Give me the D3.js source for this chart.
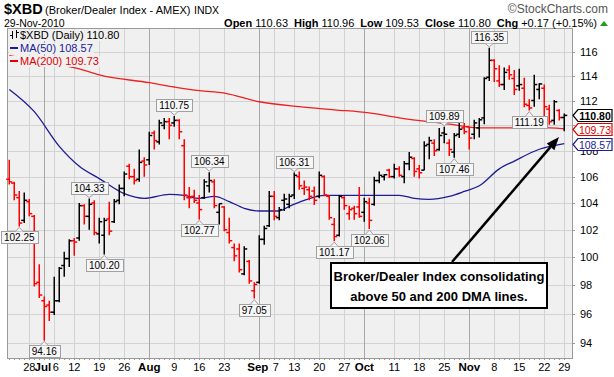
<!DOCTYPE html>
<html><head><meta charset="utf-8">
<script src="https://cdn.jsdelivr.net/npm/d3@7"></script>
<style>
body{margin:0;background:#fff}
svg{display:block}
text{font-family:"Liberation Sans",Arial,sans-serif}
</style>
</head><body>
<svg id="c" width="614" height="377"></svg>
<script>
// ---------------- DATA ----------------
const dates = [
"2010-06-22","2010-06-23","2010-06-24","2010-06-25","2010-06-28","2010-06-29","2010-06-30",
"2010-07-01","2010-07-02","2010-07-06","2010-07-07","2010-07-08","2010-07-09","2010-07-12","2010-07-13","2010-07-14","2010-07-15","2010-07-16","2010-07-19","2010-07-20","2010-07-21","2010-07-22","2010-07-23","2010-07-26","2010-07-27","2010-07-28","2010-07-29","2010-07-30",
"2010-08-02","2010-08-03","2010-08-04","2010-08-05","2010-08-06","2010-08-09","2010-08-10","2010-08-11","2010-08-12","2010-08-13","2010-08-16","2010-08-17","2010-08-18","2010-08-19","2010-08-20","2010-08-23","2010-08-24","2010-08-25","2010-08-26","2010-08-27","2010-08-30","2010-08-31",
"2010-09-01","2010-09-02","2010-09-03","2010-09-07","2010-09-08","2010-09-09","2010-09-10","2010-09-13","2010-09-14","2010-09-15","2010-09-16","2010-09-17","2010-09-20","2010-09-21","2010-09-22","2010-09-23","2010-09-24","2010-09-27","2010-09-28","2010-09-29","2010-09-30",
"2010-10-01","2010-10-04","2010-10-05","2010-10-06","2010-10-07","2010-10-08","2010-10-11","2010-10-12","2010-10-13","2010-10-14","2010-10-15","2010-10-18","2010-10-19","2010-10-20","2010-10-21","2010-10-22","2010-10-25","2010-10-26","2010-10-27","2010-10-28","2010-10-29",
"2010-11-01","2010-11-02","2010-11-03","2010-11-04","2010-11-05","2010-11-08","2010-11-09","2010-11-10","2010-11-11","2010-11-12","2010-11-15","2010-11-16","2010-11-17","2010-11-18","2010-11-19","2010-11-22","2010-11-23","2010-11-24","2010-11-26","2010-11-29"];

const openV = [105.8,105.5,104.4,102.7,104.1,103.0,98.2,
96.9,96.6,96.1,96.9,99.4,99.9,101.2,101.4,103.8,103.0,104.0,101.7,101.6,102.8,102.6,104.2,105.1,106.8,106.0,105.8,107.2,
107.3,109.4,108.7,110.0,110.3,110.2,110.4,108.4,104.4,104.5,104.0,104.4,105.3,105.6,103.3,103.7,101.8,100.7,100.6,98.8,99.7,97.6,
98.2,101.3,102.3,104.5,102.9,104.2,103.9,104.6,106.0,105.1,105.0,104.9,104.5,106.0,104.5,102.4,101.6,104.4,103.2,103.6,103.7,
103.3,104.0,103.9,105.7,106.0,106.5,106.0,106.6,106.0,107.0,107.4,106.6,106.5,108.5,108.6,108.1,109.4,108.6,107.9,109.3,109.8,
109.9,109.3,109.8,110.6,113.9,115.3,113.6,113.3,114.5,113.8,113.2,113.0,111.6,112.0,112.9,113.0,111.3,110.4,111.2,110.63];
const highV = [107.3,105.6,104.9,104.8,104.3,103.1,99.5,
97.2,96.9,98.6,99.3,100.4,101.3,101.4,104.0,103.9,104.33,104.2,102.9,102.9,104.1,104.3,105.4,106.4,107.0,106.6,108.1,107.5,
109.5,109.6,110.45,110.6,110.6,110.75,110.5,108.9,105.2,105.0,104.6,105.8,106.34,105.8,103.95,103.75,102.9,101.0,101.0,100.8,99.8,98.2,
101.6,102.3,104.9,104.9,103.7,104.7,104.7,106.31,106.4,105.7,105.25,105.25,106.4,106.1,104.6,102.87,104.6,104.5,103.8,103.8,105.2,
104.4,104.4,106.0,106.4,106.2,106.6,107.0,106.8,107.2,107.9,107.5,106.9,108.75,109.1,108.9,109.8,109.89,108.9,109.4,110.3,110.2,
109.9,110.45,110.6,113.9,116.35,115.4,114.9,114.7,114.9,114.5,114.6,113.85,112.1,114.1,113.4,113.3,111.65,112.05,111.3,110.96];
const lowV = [105.4,104.2,102.25,102.5,103.0,97.9,97.1,
94.16,95.5,95.9,96.8,98.6,99.3,100.1,101.2,102.4,102.0,101.6,101.0,100.2,101.6,102.5,103.9,104.5,105.8,105.4,105.6,106.0,
106.9,108.1,108.5,109.7,108.9,109.9,108.9,104.2,103.6,104.0,102.77,104.3,104.8,103.6,102.4,101.9,101.0,99.7,98.9,98.7,98.1,97.05,
98.1,100.9,102.2,102.7,102.7,103.4,103.6,104.3,105.0,104.6,104.2,103.85,104.35,104.5,102.75,101.17,101.5,103.5,102.75,102.75,102.9,
102.6,102.06,103.8,105.5,105.7,105.9,105.85,106.0,105.5,106.5,106.0,105.85,106.5,107.35,107.6,108.0,108.6,107.6,107.46,109.0,109.3,
108.1,108.9,109.05,110.1,113.6,113.5,113.1,112.85,113.7,112.45,112.8,111.45,111.19,111.5,112.1,110.6,110.05,110.05,110.4,109.53];
const closeV = [105.6,104.6,102.5,104.2,103.2,98.1,97.3,
96.5,96.1,96.9,99.2,99.9,101.2,101.1,103.8,103.0,103.9,101.8,102.6,102.7,101.9,104.1,105.1,106.2,106.0,105.7,107.1,106.9,
109.2,108.8,110.2,110.3,110.0,110.4,109.5,104.6,104.4,104.2,103.5,105.6,105.7,103.8,103.95,102.0,101.2,100.1,99.1,100.6,98.3,98.05,
101.3,102.1,104.5,103.0,103.5,104.3,104.5,106.1,105.3,105.2,104.5,104.2,106.1,104.6,102.9,101.5,104.5,103.8,103.5,103.2,103.0,
104.1,102.7,105.7,106.1,106.15,106.0,106.6,106.1,107.0,107.5,106.4,106.3,108.4,108.8,108.0,109.2,109.3,108.1,109.2,109.7,109.5,
109.0,110.2,110.45,113.8,115.3,114.6,113.3,114.3,114.1,112.9,113.3,111.7,111.4,113.3,113.35,111.5,110.3,111.9,110.63,110.80];
const prevClose = 106.0;

// moving averages read at selected sessions (index into dates)
const ma50Idx = [0,5,10,14,18,23,27,32,35,38,41,44,47,50,54,56,59,63,71,78,81,84,88,91,94,98,101,106,111];
const ma50Val = [112.9,111.1,108.35,106.8,105.85,104.7,104.35,104.65,104.57,104.35,104.5,104.1,103.6,103.4,103.4,103.75,104.2,104.57,104.57,104.57,104.35,104.27,104.5,104.87,105.3,106.6,107.2,108.12,108.57];
const ma200Idx = [0,8,14,18,28,33,38,43,50,58,65,72,78,88,94,98,106,111];
const ma200Val = [115.7,115.1,114.6,114.1,113.45,113.1,112.8,112.6,111.9,111.5,111.25,111.0,110.6,110.1,109.8,109.8,109.85,109.73];

// x-axis tick labels
const tickDates = ["2010-06-28","2010-07-01","2010-07-06","2010-07-12","2010-07-19","2010-07-26","2010-08-02","2010-08-09","2010-08-16","2010-08-23","2010-09-01","2010-09-07","2010-09-13","2010-09-20","2010-09-27","2010-10-01","2010-10-11","2010-10-18","2010-10-25","2010-11-01","2010-11-08","2010-11-15","2010-11-22","2010-11-29"];
const tickText  = ["28","Jul","6","12","19","26","Aug","9","16","23","Sep","7","13","20","27","Oct","11","18","25","Nov","8","15","22","29"];
const yTicks = [94,96,98,100,102,104,106,108,110,112,114,116];
const yLabels = [94,96,98,100,102,104,106,108,112,114,116]; // 110 sits under the value tags

// labelled highs / lows
const hiDates = ["2010-07-15","2010-08-09","2010-08-18","2010-09-13","2010-10-25","2010-11-05"];
const hiVals  = [104.33,110.75,106.34,106.31,109.89,116.35];
const loDates = ["2010-06-24","2010-07-01","2010-07-20","2010-08-16","2010-08-31","2010-09-23","2010-10-04","2010-10-27","2010-11-17"];
const loVals  = [102.25,94.16,100.20,102.77,97.05,101.17,102.06,107.46,111.19];

const lastMA50 = 108.57, lastMA200 = 109.73;
const noteLines = ["Broker/Dealer Index consolidating","above 50 and 200 DMA lines."];

// ---------------- LAYOUT ----------------
const P = {l:7, r:572, t:28, b:358};
const svg = d3.select("#c");
const x = d3.scalePoint().domain(dates).range([9.3, 564.3]);
const y = d3.scaleLog().domain([92.97, 118.03]).range([P.b, P.t]);
const RED = "#ff0000", BLUE = "#1c1c96", MARED = "#ee2020";
const isMonth = s => /^[A-Z]/.test(s);

svg.append("rect").attr("width",614).attr("height",377).attr("fill","#fff");
svg.append("rect").attr("x",P.l).attr("y",P.t).attr("width",P.r-P.l).attr("height",P.b-P.t).attr("fill","#f0f0f0");

// grid
const grid = svg.append("g").attr("shape-rendering","crispEdges");
grid.selectAll("line.h").data(yTicks).join("line")
  .attr("x1",P.l).attr("x2",P.r).attr("y1",d=>Math.round(y(d))+0.5).attr("y2",d=>Math.round(y(d))+0.5)
  .attr("stroke","#d2d2d2");
grid.selectAll("line.v").data(tickDates).join("line")
  .attr("x1",d=>Math.round(x(d))+0.5).attr("x2",d=>Math.round(x(d))+0.5).attr("y1",P.t).attr("y2",P.b)
  .attr("stroke",(d,i)=>isMonth(tickText[i])?"#a8a8a8":"#d2d2d2");

// frame
svg.append("rect").attr("x",P.l+0.5).attr("y",P.t+0.5).attr("width",P.r-P.l).attr("height",P.b-P.t)
  .attr("fill","none").attr("stroke","#9a9a9a").attr("shape-rendering","crispEdges");
svg.append("g").selectAll("line").data(dates).join("line")
  .attr("x1",d=>Math.round(x(d))+0.5).attr("x2",d=>Math.round(x(d))+0.5)
  .attr("y1",P.b).attr("y2",P.b+2).attr("stroke","#9a9a9a").attr("shape-rendering","crispEdges");

// x labels
svg.append("g").selectAll("text").data(tickDates).join("text")
  .attr("x",(d,i)=>x(d) + (tickText[i]==="6"||tickText[i]==="7"?1.5:0) - (tickText[i]==="Jul"||tickText[i]==="Sep"?1.5:0))
  .attr("y",371).attr("text-anchor","middle")
  .attr("font-size",(d,i)=>isMonth(tickText[i])?11.5:11)
  .attr("font-weight",(d,i)=>isMonth(tickText[i])?"bold":"normal")
  .attr("fill","#000").text((d,i)=>tickText[i]);

// y labels + ticks
svg.append("g").selectAll("line").data(yTicks).join("line")
  .attr("x1",P.r).attr("x2",P.r+3).attr("y1",d=>Math.round(y(d))+0.5).attr("y2",d=>Math.round(y(d))+0.5)
  .attr("stroke","#9a9a9a").attr("shape-rendering","crispEdges");
svg.append("g").selectAll("text").data(yLabels).join("text")
  .attr("x",580).attr("y",d=>y(d)+4).attr("font-size",11).attr("fill","#000").text(d=>d);

// moving averages
const line = d3.line().x(d=>x(dates[d[0]])).y(d=>y(d[1])).curve(d3.curveMonotoneX);
svg.append("path").attr("d",line(d3.zip(ma200Idx,ma200Val))).attr("fill","none").attr("stroke",MARED).attr("stroke-width",1.3);
svg.append("path").attr("d",line(d3.zip(ma50Idx,ma50Val))).attr("fill","none").attr("stroke",BLUE).attr("stroke-width",1.3);

// OHLC bars
const bars = svg.append("g").attr("stroke-width",1.5);
dates.forEach((d,i)=>{
  const pc = i===0?prevClose:closeV[i-1];
  const col = closeV[i] < pc ? RED : "#000";
  const cx = Math.round(x(d))+0.25;
  const g = bars.append("g").attr("stroke",col);
  g.append("line").attr("x1",cx).attr("x2",cx).attr("y1",y(highV[i])).attr("y2",y(lowV[i]));
  g.append("line").attr("x1",cx-3).attr("x2",cx).attr("y1",y(openV[i])).attr("y2",y(openV[i]));
  g.append("line").attr("x1",cx).attr("x2",cx+3).attr("y1",y(closeV[i])).attr("y2",y(closeV[i]));
});

// value call-outs
function callout(date,v,isHigh){
  const cx = Math.round(x(date))+0.25, vy = y(v);
  const g = svg.append("g");
  const t = g.append("text").attr("font-size",10).attr("text-anchor","middle").text(v.toFixed(2));
  const w = t.node().getComputedTextLength()+6, h = 12;
  const by = isHigh ? vy-5-h : vy+5;
  g.insert("rect","text").attr("x",Math.round(cx-w/2)+0.5).attr("y",Math.round(by)+0.5).attr("width",Math.round(w)).attr("height",h)
    .attr("fill","#f6f6f6").attr("stroke","#a0a0a0");
  const ty = isHigh ? Math.round(by)+h+0.5 : Math.round(by)+0.5;
  g.append("path").attr("d",`M${cx-4},${ty} L${cx},${isHigh?vy-1:vy+1} L${cx+4},${ty}`)
    .attr("fill","#f6f6f6").attr("stroke","#a0a0a0");
  t.attr("x",cx).attr("y",Math.round(by)+h-2).raise();
}
hiDates.forEach((d,i)=>callout(d,hiVals[i],true));
loDates.forEach((d,i)=>callout(d,loVals[i],false));

// legend
const leg = svg.append("g").attr("font-size",11);
const legRows = [
  {txt:"$XBD (Daily) "+closeV[closeV.length-1].toFixed(2), col:"#000", y:39, icon:"bar"},
  {txt:"MA(50) "+lastMA50.toFixed(2), col:"#1c1c96", y:52, icon:"line"},
  {txt:"MA(200) "+lastMA200.toFixed(2), col:"#e00000", y:65, icon:"line"}
];
legRows.forEach(r=>{
  const t = leg.append("text").attr("x",20).attr("y",r.y).attr("fill",r.col).text(r.txt);
  const w = t.node().getComputedTextLength();
  leg.insert("rect","text").attr("x",9).attr("y",r.y-9).attr("width",w+12).attr("height",11).attr("fill","#f0f0f0");
  if(r.icon==="line"){
    leg.append("line").attr("x1",10).attr("x2",18).attr("y1",r.y-4).attr("y2",r.y-4).attr("stroke",r.col).attr("stroke-width",2);
  } else {
    const ic = leg.append("g").attr("stroke","#000").attr("stroke-width",1);
    ic.append("line").attr("x1",12.5).attr("x2",12.5).attr("y1",r.y-8).attr("y2",r.y);
    ic.append("line").attr("x1",10).attr("x2",12.5).attr("y1",r.y-3.5).attr("y2",r.y-3.5);
    ic.append("line").attr("x1",16.5).attr("x2",16.5).attr("y1",r.y-9).attr("y2",r.y-1);
    ic.append("line").attr("x1",16.5).attr("x2",19).attr("y1",r.y-6.5).attr("y2",r.y-6.5);
  }
});

// right-side value tags
function tag(v,col,bold){
  const yc = Math.round(y(v))+0.5;
  svg.append("path").attr("d",`M573,${yc} L578,${yc-6} L612,${yc-6} L612,${yc+6} L578,${yc+6} Z`)
    .attr("fill","#fff").attr("stroke",col).attr("stroke-width",1.2);
  svg.append("text").attr("x",595).attr("y",yc+4).attr("text-anchor","middle").attr("font-size",10.5)
    .attr("font-weight",bold?"bold":"normal").attr("fill",bold?"#000":col).text(v.toFixed(2));
}
tag(lastMA50,"#1c1c96",false);
tag(lastMA200,"#e00000",false);
tag(closeV[closeV.length-1],"#000",true);

// header
const hd = svg.append("g");
hd.append("text").attr("x",4).attr("y",13.5).attr("font-size",14.5).attr("font-weight","bold").text("$XBD");
hd.append("text").attr("x",45).attr("y",13.5).attr("font-size",11).text("(Broker/Dealer Index - AMEX)");
hd.append("text").attr("x",194).attr("y",13.5).attr("font-size",10.5).text("INDX");
hd.append("text").attr("x",608).attr("y",13).attr("font-size",12).attr("text-anchor","end").attr("fill","#555").text("\u00A9StockCharts.com");
hd.append("text").attr("x",4).attr("y",26.5).attr("font-size",10.5).text("29-Nov-2010");
const o = closeV.length-1;
const chg = closeV[o]-closeV[o-1];
const info = hd.append("text").attr("x",597).attr("y",26.5).attr("font-size",11).attr("text-anchor","end");
[["Open",true,0],[openV[o].toFixed(2),false,3],["High",true,6],[highV[o].toFixed(2),false,3],
 ["Low",true,6],[lowV[o].toFixed(2),false,3],["Close",true,6],[closeV[o].toFixed(2),false,3],
 ["Chg",true,6],["+"+chg.toFixed(2)+" (+"+(chg/closeV[o-1]*100).toFixed(2)+"%)",false,3]]
 .forEach(([s,b,dx])=>info.append("tspan").attr("dx",dx).attr("font-weight",b?"bold":"normal").text(s));
hd.append("path").attr("d","M600,26 L604,21 L608,26 Z").attr("fill","#1aa01a");

// annotation
const note = svg.append("g");
note.append("rect").attr("x",331).attr("y",263).attr("width",216).attr("height",45)
  .attr("fill","#fff").attr("stroke","#000").attr("stroke-width",2);
noteLines.forEach((s,i)=>note.append("text").attr("x",439).attr("y",281+i*20).attr("text-anchor","middle")
  .attr("font-size",13).attr("font-weight","bold").text(s));
const ax1=452, ay1=262, ax2=559, ay2=137;
const ang = Math.atan2(ay2-ay1, ax2-ax1);
const hl=13, hw=5;
const bx = ax2 - hl*Math.cos(ang), by = ay2 - hl*Math.sin(ang);
note.append("line").attr("x1",ax1).attr("y1",ay1).attr("x2",bx).attr("y2",by).attr("stroke","#000").attr("stroke-width",2.5);
note.append("path").attr("d",`M${ax2},${ay2} L${bx+hw*Math.sin(ang)},${by-hw*Math.cos(ang)} L${bx-hw*Math.sin(ang)},${by+hw*Math.cos(ang)} Z`).attr("fill","#000");
</script>
</body></html>
